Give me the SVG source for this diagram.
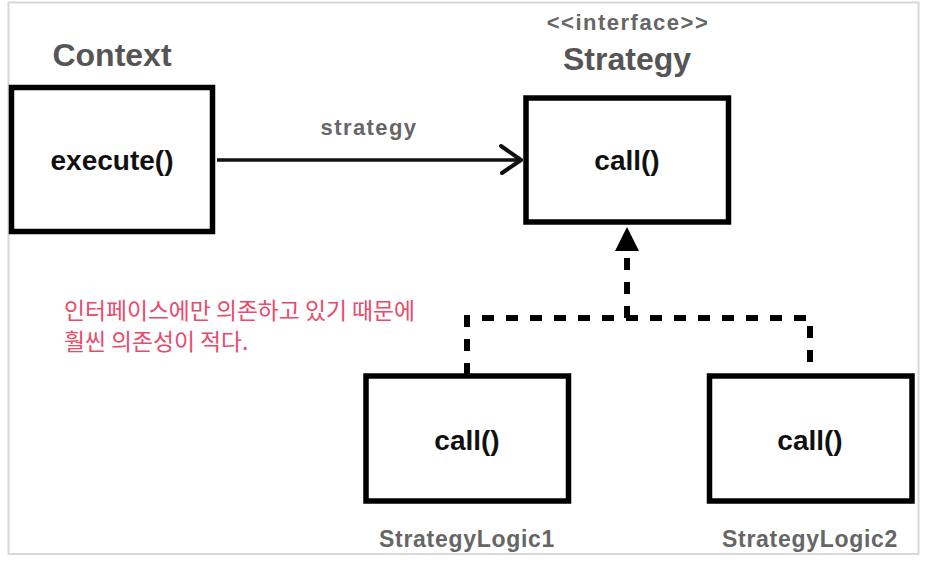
<svg xmlns="http://www.w3.org/2000/svg" width="928" height="566" viewBox="0 0 928 566">
<style>
.box{fill:#fff;stroke:#000;stroke-width:5.5}
.title{font-family:"Liberation Sans",Arial,sans-serif;font-weight:bold;fill:#555;text-anchor:middle}
.inner{font-family:"Liberation Sans",Arial,sans-serif;font-weight:bold;fill:#111;font-size:28px;text-anchor:middle}
.label{font-family:"Liberation Sans",Arial,sans-serif;font-weight:bold;fill:#666;text-anchor:middle}
.dash{fill:none;stroke:#000;stroke-width:6;stroke-dasharray:12 12}
.note{font-family:"Noto Sans CJK KR","Noto Sans",sans-serif;fill:#ea4a6a;font-size:22.8px}
</style>
<rect width="928" height="566" fill="#fff"/>
<rect x="8.5" y="2.5" width="910" height="551.5" fill="none" stroke="#d8d8d8" stroke-width="2"/>
<g id="connectors">
  <g id="edge-strategy">
    <line x1="217" y1="160" x2="520" y2="160" stroke="#111" stroke-width="3.5"/>
    <polyline points="501,146 521,160 502,173" fill="none" stroke="#111" stroke-width="4" stroke-linecap="round" stroke-linejoin="round"/>
    <text class="label" x="369" y="135" font-size="22" letter-spacing="1.4">strategy</text>
  </g>
  <g id="edge-realization">
    <path class="dash" d="M467,375 V318 H810 V375"/>
    <path class="dash" d="M627,318 V250"/>
    <polygon points="627,227 615,251 639,251" fill="#000"/>
  </g>
</g>
<g id="node-context">
  <text class="title" x="112" y="66" font-size="32">Context</text>
  <rect class="box" x="11.5" y="87.5" width="201" height="144"/>
  <text class="inner" x="112" y="170" font-size="29">execute()</text>
</g>
<g id="node-strategy">
  <text class="label" x="628" y="30" font-size="22" letter-spacing="1.5">&lt;&lt;interface&gt;&gt;</text>
  <text class="title" x="627" y="70" font-size="32">Strategy</text>
  <rect class="box" x="526" y="98" width="202.5" height="124"/>
  <text class="inner" x="627" y="170">call()</text>
</g>
<g id="node-logic1">
  <rect class="box" x="366" y="376" width="202.5" height="125"/>
  <text class="inner" x="467" y="450">call()</text>
  <text class="label" x="467" y="547" font-size="23" letter-spacing="0.7">StrategyLogic1</text>
</g>
<g id="node-logic2">
  <rect class="box" x="709.5" y="376" width="202.5" height="125"/>
  <text class="inner" x="810" y="450">call()</text>
  <text class="label" x="810" y="547" font-size="23" letter-spacing="0.7">StrategyLogic2</text>
</g>
<g id="note">
  <text class="note" x="64" y="319">인터페이스에만 의존하고 있기 때문에</text>
  <text class="note" x="64" y="350">훨씬 의존성이 적다.</text>
</g>
</svg>
